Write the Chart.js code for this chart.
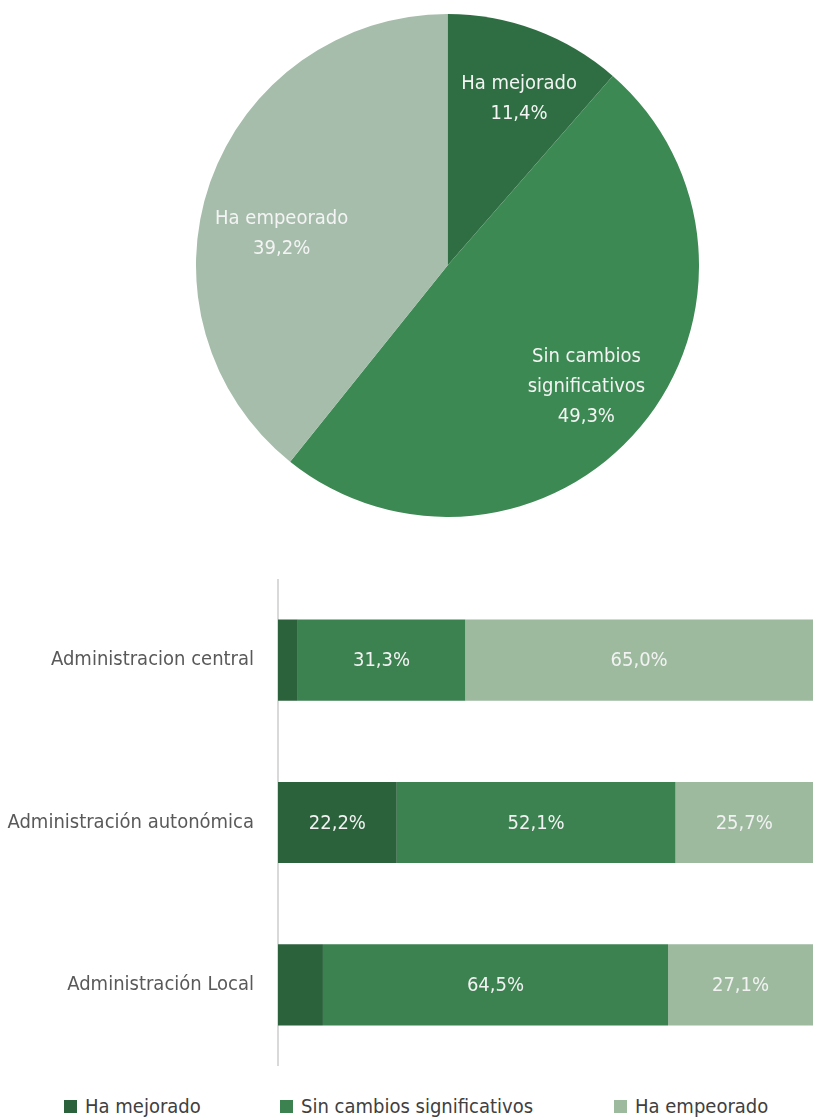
<!DOCTYPE html>
<html>
<head>
<meta charset="utf-8">
<script src="https://cdn.jsdelivr.net/npm/chart.js@4"></script>
<style>
  body { margin: 0; background: #fff; width: 813px; height: 1117px; overflow: hidden; position: relative; }
  #pieBox { position: absolute; left: 196px; top: 14px; width: 503px; height: 503px; }
  #barBox { position: absolute; left: 0; top: 579px; width: 813px; height: 487px; }
  #legend { position: absolute; top: 1094px; left: 0; width: 813px; height: 30px;
    font-family: "DejaVu Sans Condensed", sans-serif; font-size: 20px; color: #404040; }
  #legend span.item { position: absolute; white-space: nowrap; }
  #legend span.sw { display: inline-block; width: 13px; height: 13px; margin-right: 8px; }
</style>
</head>
<body>
<div id="pieBox"><canvas id="pie"></canvas></div>
<div id="barBox"><canvas id="bars"></canvas></div>
<div id="legend"></div>
<script>
const FONT = '"DejaVu Sans Condensed", sans-serif';

const seriesNames = ["Ha mejorado", "Sin cambios significativos", "Ha empeorado"];
const pieLabels = [["Ha mejorado"], ["Sin cambios", "significativos"], ["Ha empeorado"]];
const pieValues = [11.4, 49.3, 39.2];
const pieColors = ["#2f6e43", "#3d8953", "#a6bdab"];

const categories = ["Administracion central", "Administración autonómica", "Administración Local"];
const mejorado = [3.7, 22.2, 8.4];
const sinCambios = [31.3, 52.1, 64.5];
const empeorado = [65.0, 25.7, 27.1];
const barColors = ["#2b623c", "#3c8150", "#9dba9f"];

// small nudges so the pie labels sit where the original placed them
const pieLabelNudge = [[8, 3], [0, 5], [5, 28]];

const fmt = (v) => v.toFixed(1).replace(".", ",") + "%";

const pieText = {
  id: "pieText",
  afterDatasetsDraw(chart) {
    const ctx = chart.ctx;
    const meta = chart.getDatasetMeta(0);
    ctx.save();
    ctx.fillStyle = "#f4f4f4";
    ctx.font = "20px " + FONT;
    ctx.textAlign = "center";
    ctx.textBaseline = "middle";
    meta.data.forEach((arc, i) => {
      const p = arc.getProps(["x", "y", "startAngle", "endAngle", "outerRadius"], true);
      const a = (p.startAngle + p.endAngle) / 2;
      const r = p.outerRadius * 0.72;
      const cx = p.x + Math.cos(a) * r + pieLabelNudge[i][0];
      const cy = p.y + Math.sin(a) * r + pieLabelNudge[i][1];
      const lines = pieLabels[i].concat([fmt(pieValues[i])]);
      const lh = 30;
      lines.forEach((t, j) => {
        ctx.fillText(t, cx, cy + (j - (lines.length - 1) / 2) * lh);
      });
    });
    ctx.restore();
  },
};

new Chart(document.getElementById("pie"), {
  type: "pie",
  data: {
    labels: seriesNames,
    datasets: [{ data: pieValues, backgroundColor: pieColors, borderWidth: 0 }],
  },
  options: {
    responsive: true,
    maintainAspectRatio: false,
    animation: false,
    events: [],
    layout: { padding: 0 },
    plugins: { legend: { display: false }, tooltip: { enabled: false } },
  },
  plugins: [pieText],
});

const barText = {
  id: "barText",
  afterDatasetsDraw(chart) {
    const ctx = chart.ctx;
    ctx.save();
    ctx.fillStyle = "#f2f2f2";
    ctx.font = "20px " + FONT;
    ctx.textAlign = "center";
    ctx.textBaseline = "middle";
    chart.data.datasets.forEach((ds, di) => {
      chart.getDatasetMeta(di).data.forEach((bar, i) => {
        const v = ds.data[i];
        if (v < 10) return;
        const p = bar.getProps(["x", "y", "base"], true);
        ctx.fillText(fmt(v), (p.x + p.base) / 2, p.y + 1);
      });
    });
    ctx.restore();
  },
};

new Chart(document.getElementById("bars"), {
  type: "bar",
  data: {
    labels: categories,
    datasets: [
      { label: seriesNames[0], data: mejorado, backgroundColor: barColors[0] },
      { label: seriesNames[1], data: sinCambios, backgroundColor: barColors[1] },
      { label: seriesNames[2], data: empeorado, backgroundColor: barColors[2] },
    ],
  },
  options: {
    indexAxis: "y",
    responsive: true,
    maintainAspectRatio: false,
    animation: false,
    events: [],
    layout: { padding: 0 },
    datasets: { bar: { categoryPercentage: 1, barPercentage: 0.5, borderWidth: 0 } },
    scales: {
      x: { stacked: true, min: 0, max: 100, display: false },
      y: {
        stacked: true,
        afterFit: (s) => {
          s.width = 278;
          s.paddingTop = 0;
          s.paddingBottom = 0;
        },
        grid: { display: true, drawOnChartArea: false, drawTicks: false },
        border: { display: true, color: "#d9d9d9", width: 2 },
        ticks: { padding: 24, color: "#595959", font: { family: FONT, size: 20 } },
      },
    },
    plugins: { legend: { display: false }, tooltip: { enabled: false } },
  },
  plugins: [barText],
});

const legendLeft = [64, 280, 614];
const legend = document.getElementById("legend");
seriesNames.forEach((name, i) => {
  const item = document.createElement("span");
  item.className = "item";
  item.style.left = legendLeft[i] + "px";
  const sw = document.createElement("span");
  sw.className = "sw";
  sw.style.background = barColors[i];
  item.appendChild(sw);
  item.appendChild(document.createTextNode(name));
  legend.appendChild(item);
});
</script>
</body>
</html>
